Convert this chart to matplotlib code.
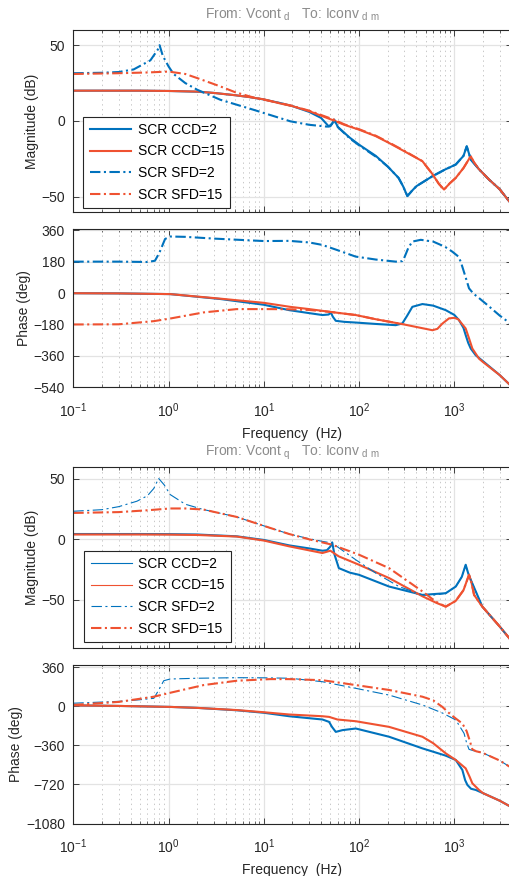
import numpy as np
import matplotlib
matplotlib.use("Agg")
import matplotlib.pyplot as plt

plt.rcParams['font.family'] = ['Liberation Sans', 'DejaVu Sans']
plt.rcParams['mathtext.fontset'] = 'custom'
plt.rcParams['mathtext.rm'] = 'Liberation Sans'
plt.rcParams['mathtext.default'] = 'regular'
plt.rcParams['lines.scale_dashes'] = False
plt.rcParams['font.size'] = 10

# ---------------- d-axis : From Vcont_d to Iconv_dm ----------------
# magnitude (dB)
f_d_mag_ccd2 = [0.1, 0.5, 1, 2, 3, 5, 7, 10, 15, 20, 30, 40, 48, 52, 55, 60, 80, 100, 150, 200,
                260, 290, 322, 360, 400, 590, 800, 1037, 1250, 1352, 1420, 1490, 1800, 2317, 3000, 4000]
d_mag_ccd2 = [20, 20, 19.8, 19.3, 18.5, 17, 15.8, 14.2, 11.8, 9.8, 6, 2, -3.5, -2, 0.9, -4, -11, -15.6, -23, -30,
              -37.5, -43, -49.5, -46, -43, -36.4, -32, -28.7, -23, -16.7, -21, -25.4, -31.5, -38.6, -45, -55]

f_d_mag_ccd15 = [0.1, 0.5, 1, 2, 3, 5, 7, 10, 15, 20, 30, 40, 55, 70, 100, 150, 207, 300, 463, 590, 690,
                 781, 900, 1037, 1250, 1490, 1600, 1800, 2317, 3000, 4000]
d_mag_ccd15 = [20, 20, 19.8, 19.4, 18.5, 17, 15.8, 14.3, 11.5, 9.8, 6.5, 3.5, 0.2, -2.5, -5.7, -10, -14.5, -20,
               -26.5, -35, -41.5, -45.2, -41, -37.5, -31, -23.2, -27, -31.5, -38.6, -45, -55]

f_d_mag_sfd2 = [0.1, 0.2, 0.3, 0.43, 0.645, 0.77, 0.805, 0.87, 1.0, 1.13, 1.5, 2.0, 3.5, 7.8, 19, 30, 46, 50,
                55, 60, 80, 100, 150, 200, 260, 290, 322, 360, 400, 590, 800, 1037, 1250, 1352, 1420, 1490,
                1800, 2317, 3000, 4000]
d_mag_sfd2 = [31.5, 31.8, 32.3, 34, 40, 47, 50, 43, 36, 31, 25, 20.6, 14, 7.4, -0.2, -2.5, -3.7, -3.5,
              0.5, -4, -11.5, -16, -23.5, -30, -37.5, -43, -49.5, -46, -43, -36.4, -32, -28.7, -23, -16.7, -21,
              -25.4, -31.5, -38.6, -45, -55]

f_d_mag_sfd15 = [0.1, 0.3, 0.6, 1.0, 1.5, 2, 3.5, 5, 7.8, 12, 19, 30, 45, 55, 70, 100, 150, 207, 300, 463,
                 590, 690, 781, 900, 1037, 1250, 1490, 1600, 1800, 2317, 3000, 4000]
d_mag_sfd15 = [31, 31.5, 32, 32.6, 31, 28.3, 22.8, 19, 15.5, 13, 10.3, 6.8, 2.8, 0.8, -2.2, -5.4, -9.7, -14.2,
               -19.7, -26.5, -35, -41.5, -45.2, -41, -37.5, -31, -23.2, -27, -31.5, -38.6, -45, -55]

# phase (deg)
f_d_ph_ccd2 = [0.1, 0.3, 1.04, 3.48, 10, 18.5, 30, 41.3, 48, 50.6, 53, 57, 70, 92.5, 150, 243, 285, 320,
               363, 463, 600, 814, 1000, 1122, 1250, 1318, 1400, 1490, 1683, 2000, 3000, 4000]
d_ph_ccd2 = [-1, -2, -6, -34, -67, -98, -115, -126, -123, -111, -135, -159, -165, -169, -177, -184, -174, -130,
             -79, -63, -72, -98, -125, -155, -200, -241, -285, -318, -357, -390, -470, -535]

f_d_ph_ccd15 = [0.1, 0.3, 1.04, 3.48, 10, 18.9, 30, 50, 92.5, 150, 285, 450, 590, 665, 750, 881, 1000, 1100,
                1318, 1430, 1549, 1820, 2000, 3000, 4000]
d_ph_ccd15 = [-1, -2, -6, -32, -56, -79, -92, -108, -126, -150, -178, -200, -213, -205, -175, -145, -142, -150,
              -203, -260, -318, -376, -395, -470, -535]

f_d_ph_sfd2 = [0.1, 0.3, 0.6, 0.72, 0.8, 0.92, 1.04, 1.5, 3, 10, 18.5, 30, 41, 60, 92, 150, 243, 285, 297,
               330, 363, 445, 600, 800, 955, 1100, 1169, 1300, 1429, 1600, 1750, 2200, 3000, 4000]
d_ph_sfd2 = [180, 180, 178, 185, 230, 310, 324, 322, 312, 298, 299, 290, 276, 245, 209, 192, 180, 183, 199,
             260, 295, 305, 295, 265, 237, 210, 180, 100, 27, -5, -21, -66, -129, -180]

f_d_ph_sfd15 = [0.1, 0.3, 0.7, 1.04, 2.33, 5.2, 11.7, 18.9, 30, 50, 92.5, 150, 285]
d_ph_sfd15 = [-180, -179, -161, -146, -111, -92, -92, -93, -97, -108, -126, -150, -178]

# ---------------- q-axis : From Vcont_q to Iconv_dm ----------------
f_q_mag_ccd2 = [0.1, 0.5, 1, 2, 5.2, 10, 18.5, 30, 41.3, 46, 50, 52.3, 55, 61.4, 80, 100, 207, 463, 814,
                1037, 1200, 1318, 1400, 1490, 1972, 3000, 4000]
q_mag_ccd2 = [4.4, 4.4, 4.3, 4, 2.5, -0.5, -5, -7.5, -9.4, -9, -6, -2.5, -12, -23.8, -27.5, -29.3, -39, -45.9,
              -44.5, -39, -31, -21, -28, -33.4, -55.6, -72, -84]

f_q_mag_ccd15 = [0.1, 0.5, 1, 2, 5.2, 10, 18.5, 41.3, 50, 61, 100, 207, 463, 650, 814, 1037, 1250, 1429,
                 1520, 1615, 1972, 3000, 4000]
q_mag_ccd15 = [4, 4, 3.9, 3.6, 2.3, -1, -5.8, -11.3, -9.4, -14, -21, -32, -47, -52.5, -55.6, -50.8, -42, -29.3,
               -36, -45.9, -55.6, -72, -84]

f_q_mag_sfd2 = [0.1, 0.2, 0.3, 0.466, 0.6, 0.7, 0.787, 0.9, 1.04, 1.5, 2.33, 5.2, 11.7, 18.5, 30, 41.3, 52,
                92.5, 150, 263, 463, 638, 814, 1037, 1200, 1318, 1400, 1490, 1972, 3000, 4000]
q_mag_sfd2 = [23.2, 24.5, 27, 31.5, 36, 42, 50.3, 45, 37, 29, 24.6, 18.5, 9.4, 4.4, 0.5, -1.7, -3, -16.9,
              -27.9, -39, -46, -46, -44.5, -39, -31, -21, -28, -33.4, -55.6, -72, -84]

f_q_mag_sfd15 = [0.1, 0.3, 0.6, 1.04, 1.5, 2.33, 5.2, 11.7, 18.5, 30, 52, 100, 207, 463, 638, 814, 1037,
                 1250, 1429, 1520, 1615, 1972, 3000, 4000]
q_mag_sfd15 = [21.8, 22.5, 24, 25.5, 25.5, 24.6, 18.5, 9.4, 4.4, 0, -4.4, -12.7, -23.8, -43, -51.4, -55.6,
               -50.8, -42, -29.3, -36, -45.9, -55.6, -72, -84]

f_q_ph_ccd2 = [0.1, 0.3, 1.04, 2, 5.2, 10, 18.5, 41.3, 48.5, 52, 57, 67, 92.5, 207, 463, 814, 1037, 1216,
               1300, 1374, 1500, 1683, 2000, 3000, 4000]
q_ph_ccd2 = [8, 3, -6, -15, -37, -60, -92, -122, -144, -190, -236, -220, -205, -281, -388, -455, -495, -587,
             -680, -725, -760, -771, -800, -870, -930]

f_q_ph_ccd15 = [0.1, 0.3, 1.04, 2, 5.2, 10, 18.5, 41.3, 48.5, 59.3, 92.5, 207, 463, 600, 814, 1037, 1318,
                1450, 1549, 1820, 2000, 3000, 4000]
q_ph_ccd15 = [8, 3, -6, -15, -35, -55, -76, -92, -98, -122, -138, -190, -281, -340, -434, -495, -572, -650,
              -710, -771, -800, -870, -930]

f_q_ph_sfd2 = [0.1, 0.3, 0.5, 0.7, 0.79, 0.89, 1.04, 2, 5.2, 10, 18.9, 41.3, 92.5, 207, 463, 750, 1037,
               1268, 1350, 1429, 1600, 1972, 3000, 4000]
q_ph_sfd2 = [28, 45, 60, 73, 150, 235, 251, 258, 263, 262, 258, 226, 165, 103, 12, -62, -126, -250, -340,
             -397, -410, -428, -500, -568]

f_q_ph_sfd15 = [0.1, 0.3, 0.7, 1.04, 2.33, 5.2, 11.7, 18.5, 41.3, 92.5, 207, 463, 600, 750, 900, 1037,
                1216, 1350, 1429, 1549, 1700, 1972, 3000, 4000]
q_ph_sfd15 = [12, 40, 88, 124, 195, 235, 250, 250, 240, 195, 150, 88, 55, -6, -70, -113, -159, -230, -296,
              -397, -415, -428, -500, -568]

labels = ['SCR CCD=2', 'SCR CCD=15', 'SCR SFD=2', 'SCR SFD=15']
blue = '#0072BD'
red = '#EF5231'
dashdot = (0, (7.5, 2.5, 1.5, 2.5))
text_col = '#262626'

W, H = 509, 876
fig = plt.figure(figsize=(W / 100, H / 100), dpi=100)


def make_ax(top, bottom):
    left, right = 73.3, 511.6
    ax = fig.add_axes([left / W, 1 - bottom / H, (right - left) / W, (bottom - top) / H])
    ax.set_xscale('log')
    ax.set_xlim(0.1, 4000)
    ax.grid(True, which='major', color='#E3E3E3', linewidth=0.9, linestyle='-')
    ax.grid(True, which='minor', axis='x', color='#C8C8C8', linewidth=0.7, linestyle=(0, (1, 2.5)))
    ax.set_axisbelow(True)
    ax.tick_params(which='both', direction='in', top=True, right=True, colors=text_col, labelsize=10)
    ax.tick_params(axis='y', pad=6)
    ax.tick_params(axis='x', pad=10)
    ax.tick_params(which='major', length=4.5, width=0.6)
    ax.tick_params(which='minor', length=2.5, width=0.5)
    for s in ax.spines.values():
        s.set_color(text_col)
        s.set_linewidth(0.8)
    return ax


xticks = [0.1, 1, 10, 100, 1000]
xticklabels = [r'$10^{-1}$', r'$10^{0}$', r'$10^{1}$', r'$10^{2}$', r'$10^{3}$']

# ---- d-axis magnitude
ax1 = make_ax(30, 212)
ax1.semilogx(f_d_mag_ccd2, d_mag_ccd2, color=blue, lw=1.5, label=labels[0])
ax1.semilogx(f_d_mag_ccd15, d_mag_ccd15, color=red, lw=1.5, label=labels[1])
ax1.semilogx(f_d_mag_sfd2, d_mag_sfd2, color=blue, lw=1.5, ls=dashdot, label=labels[2])
ax1.semilogx(f_d_mag_sfd15, d_mag_sfd15, color=red, lw=1.5, ls=dashdot, label=labels[3])
ax1.set_ylim(-60, 60)
ax1.set_yticks([-50, 0, 50])
ax1.set_xticks(xticks)
ax1.set_xticklabels([])
ax1.set_ylabel('Magnitude (dB)', color=text_col, labelpad=2)
ax1.set_title(r'From: Vcont$_{\ d}$   To: Iconv$_{\ d\ m}$', color='#8C8C8C', fontsize=10, pad=8)
leg1 = ax1.legend(loc='lower left', bbox_to_anchor=(0.023, 0.022), borderaxespad=0, fancybox=False,
                  edgecolor=text_col, framealpha=1, handlelength=3.0, handletextpad=0.45,
                  labelspacing=0.55, borderpad=0.45, fontsize=10)
leg1.get_frame().set_linewidth(0.8)

# ---- d-axis phase
ax2 = make_ax(229, 387.3)
ax2.semilogx(f_d_ph_ccd2, d_ph_ccd2, color=blue, lw=1.5)
ax2.semilogx(f_d_ph_ccd15, d_ph_ccd15, color=red, lw=1.5)
ax2.semilogx(f_d_ph_sfd2, d_ph_sfd2, color=blue, lw=1.5, ls=dashdot)
ax2.semilogx(f_d_ph_sfd15, d_ph_sfd15, color=red, lw=1.5, ls=dashdot)
ax2.set_ylim(-540, 367)
ax2.set_yticks([-540, -360, -180, 0, 180, 360])
ax2.set_xticks(xticks)
ax2.set_xticklabels(xticklabels)
ax2.set_ylabel('Phase (deg)', color=text_col, labelpad=2)
ax2.set_xlabel('Frequency  (Hz)', color=text_col, labelpad=5)

# ---- q-axis magnitude
ax3 = make_ax(466.7, 648.3)
ax3.semilogx(f_q_mag_ccd2, q_mag_ccd2, color=blue, lw=1.5, label=labels[0])
ax3.semilogx(f_q_mag_ccd15, q_mag_ccd15, color=red, lw=1.5, label=labels[1])
ax3.semilogx(f_q_mag_sfd2, q_mag_sfd2, color=blue, lw=0.8, ls=dashdot, label=labels[2])
ax3.semilogx(f_q_mag_sfd15, q_mag_sfd15, color=red, lw=1.5, ls=dashdot, label=labels[3])
ax3.set_ylim(-90, 60)
ax3.set_yticks([-50, 0, 50])
ax3.set_xticks(xticks)
ax3.set_xticklabels([])
ax3.set_ylabel('Magnitude (dB)', color=text_col, labelpad=2)
ax3.set_title(r'From: Vcont$_{\ q}$   To: Iconv$_{\ d\ m}$', color='#8C8C8C', fontsize=10, pad=8)
leg3 = ax3.legend(loc='lower left', bbox_to_anchor=(0.025, 0.035), borderaxespad=0, fancybox=False,
                  edgecolor=text_col, framealpha=1, handlelength=3.0, handletextpad=0.45,
                  labelspacing=0.55, borderpad=0.45, fontsize=10)
leg3.get_frame().set_linewidth(0.8)
for ln, w in zip(leg3.get_lines(), [0.8, 0.8, 0.8, 1.5]):
    ln.set_linewidth(w)

# ---- q-axis phase
ax4 = make_ax(665, 823.5)
ax4.semilogx(f_q_ph_ccd2, q_ph_ccd2, color=blue, lw=1.5)
ax4.semilogx(f_q_ph_ccd15, q_ph_ccd15, color=red, lw=1.5)
ax4.semilogx(f_q_ph_sfd2, q_ph_sfd2, color=blue, lw=0.8, ls=dashdot)
ax4.semilogx(f_q_ph_sfd15, q_ph_sfd15, color=red, lw=1.5, ls=dashdot)
ax4.set_ylim(-1080, 380)
ax4.set_yticks([-1080, -720, -360, 0, 360])
ax4.set_xticks(xticks)
ax4.set_xticklabels(xticklabels)
ax4.set_ylabel('Phase (deg)', color=text_col, labelpad=2)
ax4.set_xlabel('Frequency  (Hz)', color=text_col, labelpad=5)

fig.savefig('out.png', dpi=100)
